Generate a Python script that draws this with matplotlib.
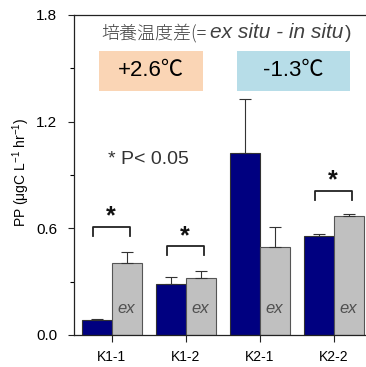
import matplotlib
matplotlib.use("Agg")
import matplotlib.pyplot as plt
from matplotlib.patches import Rectangle

plt.rcParams['font.family'] = ['Liberation Sans', 'Noto Sans CJK JP', 'DejaVu Sans']
plt.rcParams['mathtext.fontset'] = 'custom'
plt.rcParams['mathtext.rm'] = 'Liberation Sans'

sites = ["K1-1", "K1-2", "K2-1", "K2-2"]
in_situ = [0.084, 0.285, 1.025, 0.559]
in_err = [0.004, 0.041, 0.30, 0.007]
ex_situ = [0.407, 0.319, 0.495, 0.667]
ex_err = [0.060, 0.041, 0.111, 0.015]
sig_sites = [0, 1, 3]
sig_heights = [0.609, 0.499, 0.81]
temp_diff = ["+2.6\u2103", "-1.3\u2103"]

fig = plt.figure(figsize=(3.66, 3.67), dpi=100)
right_px = 366
ax = fig.add_axes([74/366, 1-335/367, (right_px-74)/366, 320/367])
ax.patch.set_visible(False)

w = 0.405
x = list(range(len(sites)))
ax.bar([i - w/2 for i in x], in_situ, w, color='#000080', edgecolor='#333333', linewidth=0.8,
       yerr=[[0]*4, in_err], error_kw=dict(ecolor='#333333', elinewidth=0.8, capsize=4, capthick=0.8))
ax.bar([i + w/2 for i in x], ex_situ, w, color='#C0C0C0', edgecolor='#555555', linewidth=0.8,
       yerr=[[0]*4, ex_err], error_kw=dict(ecolor='#333333', elinewidth=0.8, capsize=4, capthick=0.8))
for i in x:
    ax.text(i + w/2, 0.15, "ex", style='italic', ha='center', va='center', fontsize=12, color='#505050')

for i, h in zip(sig_sites, sig_heights):
    x0, x1 = i - 0.25, i + 0.24
    ax.plot([x0, x0, x1, x1], [h - 0.05, h, h, h - 0.05], color='#222222', lw=1.3)
    ax.text(i - 0.01, h - 0.01, "*", ha='center', va='bottom', fontsize=18, color='#111111', fontweight='bold')

ax.set_xlim(-0.51, -0.51 + (right_px-74)/74)
ax.set_ylim(0, 1.8)
ax.set_yticks([0, 0.6, 1.2, 1.8])
ax.set_yticklabels(["0.0", "0.6", "1.2", "1.8"])
ax.set_yticks([0.3, 0.9, 1.5], minor=True)
ax.set_xticks(x)
ax.set_xticklabels(sites)
ax.tick_params(axis='y', direction='out', labelsize=11, color='#222222', length=4, width=0.8, pad=8)
ax.tick_params(axis='x', direction='out', labelsize=10, color='#222222', length=5, width=0.8, pad=6)
ax.tick_params(axis='y', which='minor', direction='out', length=3, width=0.8)
ax.spines['right'].set_visible(False)
for s in ['left', 'bottom', 'top']:
    ax.spines[s].set_linewidth(0.9)
    ax.spines[s].set_color('#222222')

fig.text(21/366, 1-172/367, "PP (\u03bcgC L$^{-1}$ hr$^{-1}$)", rotation=90, ha='center', va='center', fontsize=10)

# title pieces placed sequentially
fig.canvas.draw()
r = fig.canvas.get_renderer()
yt = 1 - 33/367
t1 = fig.text(101/366, yt, "培養温度差(=", fontsize=13, color='#404040', ha='left', va='center',
              family=['Noto Sans CJK JP', 'DejaVu Sans'], fontweight='light')
bb = t1.get_window_extent(r)
t2 = fig.text(bb.x1/366 + 4/366, yt, "ex situ - in situ", fontsize=15, color='#404040', ha='left', va='center', style='italic')
bb2 = t2.get_window_extent(r)
fig.text(bb2.x1/366 + 1/366, yt, ")", fontsize=14, color='#404040', ha='left', va='center')

fig.patches.append(Rectangle((99/366, 1-91/367), 104/366, 40/367, transform=fig.transFigure,
                             facecolor='#FAD5B5', edgecolor='none'))
fig.patches.append(Rectangle((237/366, 1-91/367), 113/366, 40/367, transform=fig.transFigure,
                             facecolor='#B7DDE8', edgecolor='none'))
fig.text(151/366, 1-71/367, temp_diff[0], fontsize=16, ha='center', va='center')
fig.text(293/366, 1-71/367, temp_diff[1], fontsize=16, ha='center', va='center')

fig.text(108/366, 1-159/367, "* P< 0.05", fontsize=14, color='#333333', ha='left', va='center')

fig.savefig("out.png", dpi=100)
